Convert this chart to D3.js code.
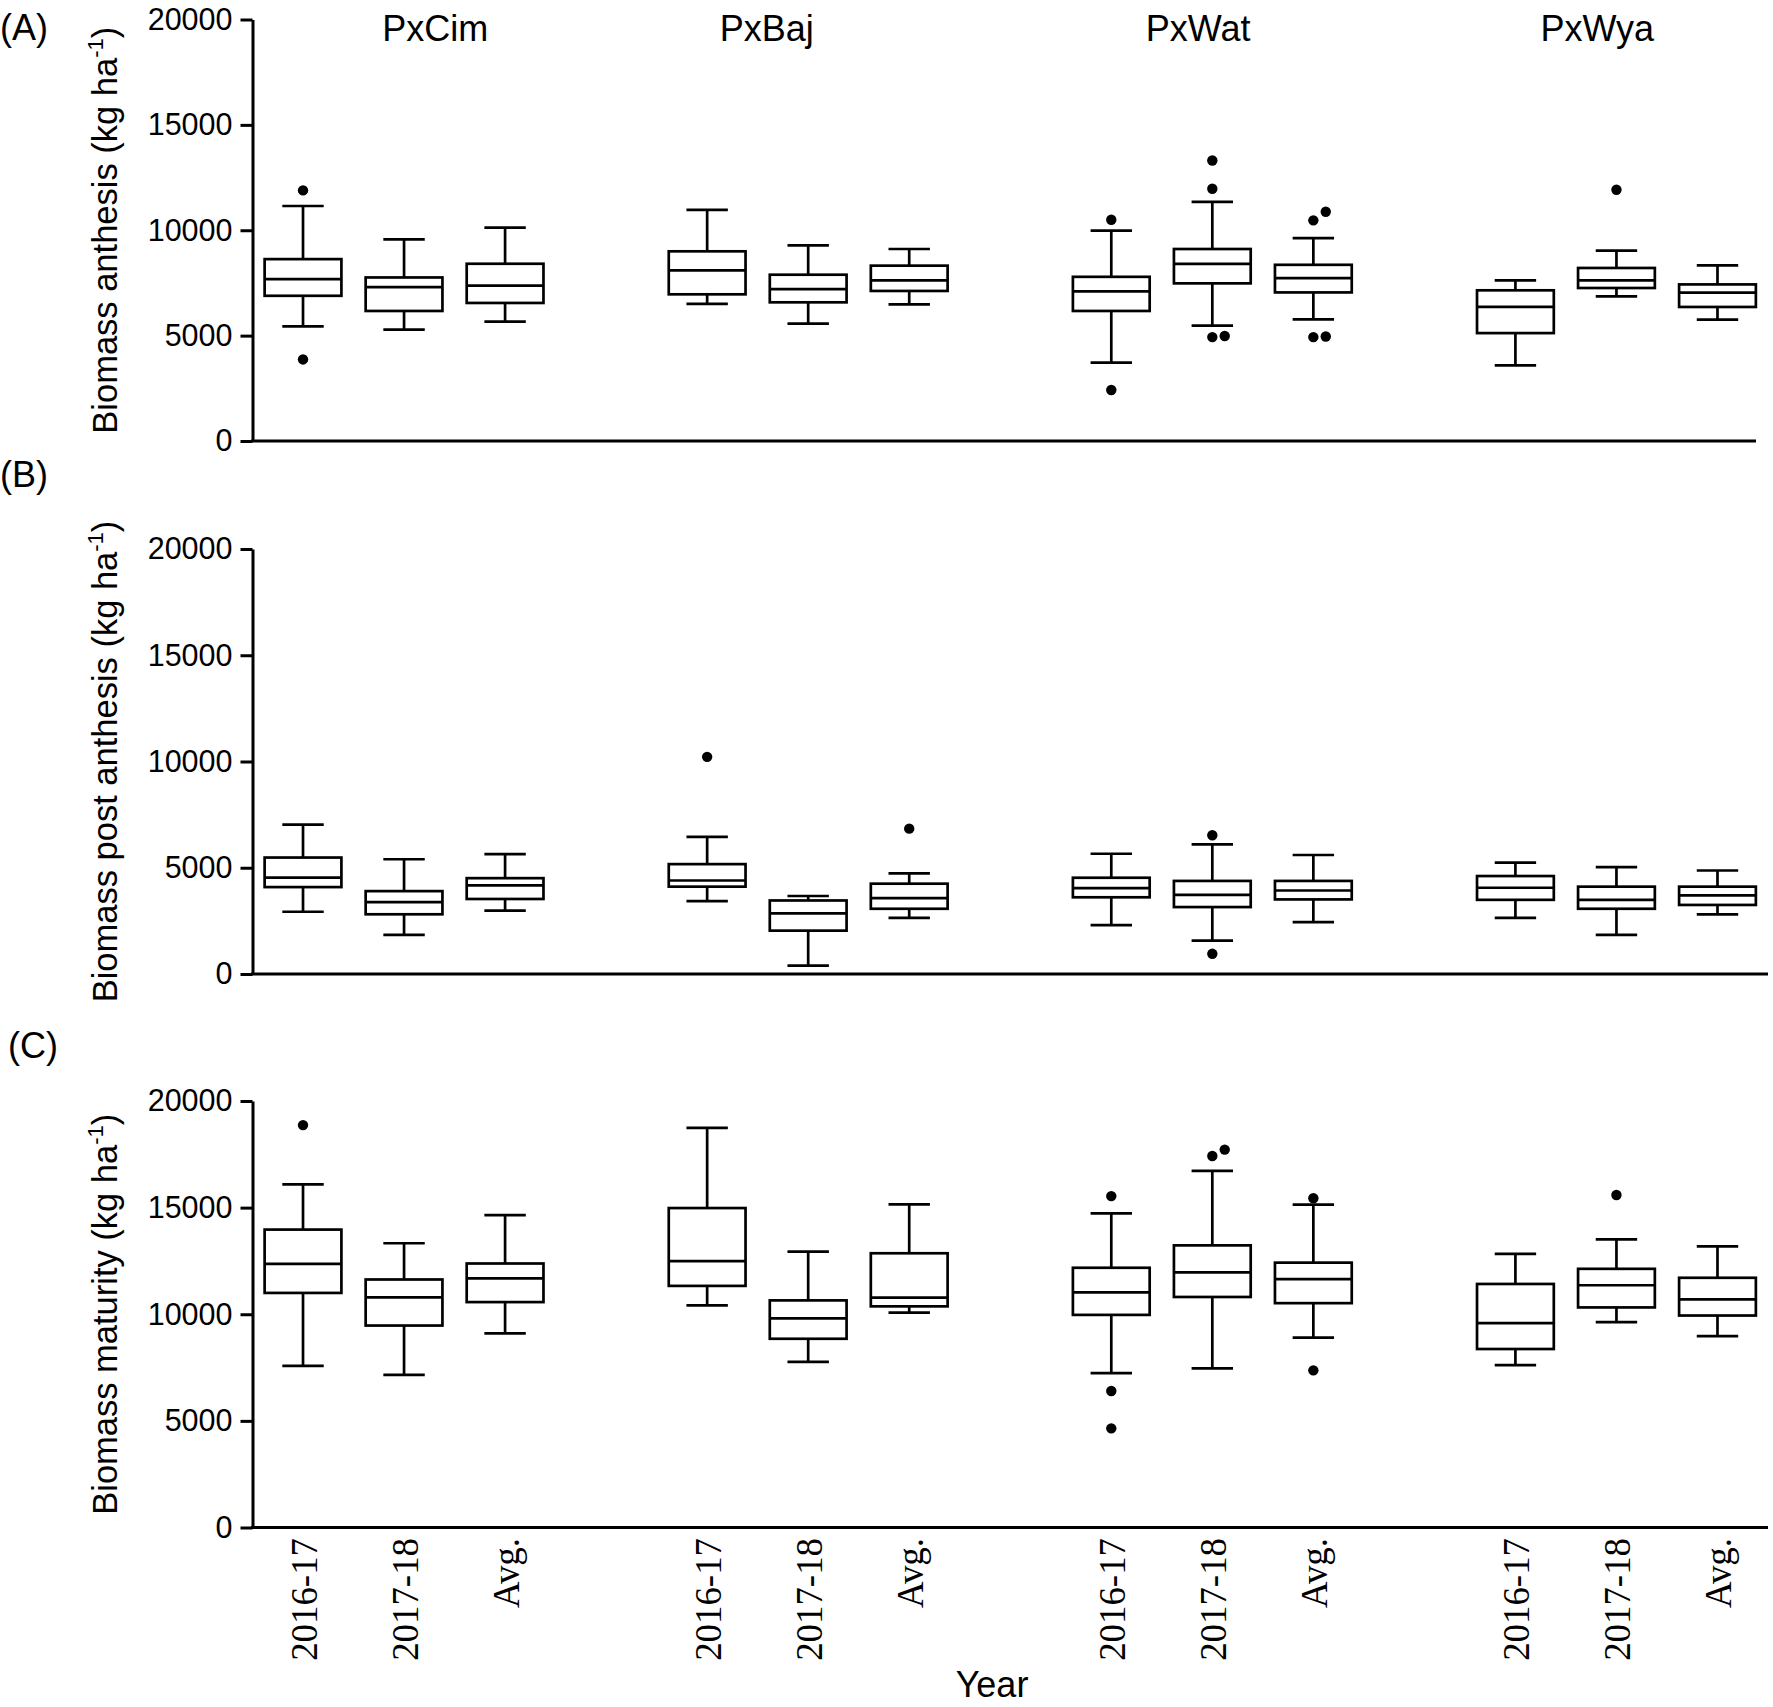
<!DOCTYPE html>
<html><head><meta charset="utf-8">
<script src="https://cdn.jsdelivr.net/npm/d3@7"></script>
<style>body{margin:0;background:#fff} svg{display:block}</style>
</head><body>
<script>
// ---------------- DATA ----------------
const groups = ["PxCim", "PxBaj", "PxWat", "PxWya"];
const years = ["2016-17", "2017-18", "Avg."];
const yTicks = [0, 5000, 10000, 15000, 20000];

// each box: [lower whisker, Q1, median, Q3, upper whisker]; order = groups x years
const anthesisBoxes = [
  [5440, 6890, 7680, 8630, 11150], [5280, 6170, 7300, 7760, 9570], [5660, 6550, 7370, 8410, 10120],
  [6510, 6960, 8100, 9000, 10970], [5570, 6580, 7210, 7890, 9280], [6480, 7120, 7620, 8320, 9110],
  [3720, 6170, 7100, 7790, 9980], [5470, 7480, 8400, 9110, 11350], [5770, 7050, 7730, 8360, 9630],
  [3590, 5120, 6360, 7150, 7620], [6860, 7260, 7620, 8210, 9030], [5760, 6360, 7040, 7430, 8330]
];
const anthesisOutliers = [
  [11890, 3870], [], [],
  [], [], [],
  [10500, 2420], [13310, 11970, 4930, 4980], [10880, 10470, 4930, 4960],
  [], [11920], []
];

const postAnthesisBoxes = [
  [2930, 4090, 4540, 5480, 7030], [1840, 2810, 3380, 3900, 5400], [2980, 3530, 4170, 4510, 5640],
  [3430, 4110, 4400, 5170, 6450], [390, 2040, 2850, 3460, 3670], [2640, 3070, 3570, 4250, 4740],
  [2300, 3610, 4040, 4530, 5660], [1570, 3150, 3720, 4380, 6100], [2440, 3510, 3930, 4380, 5600],
  [2640, 3490, 4060, 4610, 5240], [1840, 3070, 3490, 4110, 5030], [2810, 3250, 3700, 4110, 4870]
];
const postAnthesisOutliers = [
  [], [], [],
  [10220], [], [6840],
  [], [6530, 950], [],
  [], [], []
];

const maturityBoxes = [
  [7580, 11000, 12360, 13970, 16090], [7160, 9470, 10790, 11630, 13330], [9100, 10570, 11680, 12380, 14650],
  [10420, 11330, 12490, 14980, 18740], [7770, 8850, 9810, 10650, 12940], [10080, 10370, 10780, 12860, 15150],
  [7240, 9970, 11030, 12180, 14730], [7460, 10810, 11960, 13230, 16720], [8900, 10520, 11650, 12420, 15140],
  [7610, 8370, 9580, 11420, 12830], [9630, 10320, 11360, 12130, 13510], [8970, 9940, 10700, 11710, 13180]
];
const maturityOutliers = [
  [18870], [], [],
  [], [], [],
  [15540, 6400, 4650], [17420, 17720], [15440, 7370],
  [], [15590], []
];

// ---------------- LAYOUT ----------------
const W = 1773, H = 1707;
const titleSlots = [1.31, 4.59, 8.86, 12.81];
const panelDefs = [
  {tag: "(A)", tagX: 0, tagY: 40, name: "Biomass anthesis", boxes: anthesisBoxes, outliers: anthesisOutliers, top: 19.5, bottom: 441, right: 1756},
  {tag: "(B)", tagX: 0, tagY: 487, name: "Biomass post anthesis", boxes: postAnthesisBoxes, outliers: postAnthesisOutliers, top: 549, bottom: 974, right: 1768},
  {tag: "(C)", tagX: 8, tagY: 1058, name: "Biomass maturity", boxes: maturityBoxes, outliers: maturityOutliers, top: 1101, bottom: 1527.5, right: 1768}
];
const axisX = 252.5;
const SANS = "'Liberation Sans', Arial, Helvetica, sans-serif";
const SERIF = "'Liberation Serif', 'Times New Roman', serif";

const svg = d3.select("body").append("svg").attr("width", W).attr("height", H)
  .style("font-family", SANS);

const x = d3.scaleLinear().domain([-0.5, 14.5]).range([axisX, 1768]);
const slotOf = (g, k) => g * 4 + k;
const unit = x(1) - x(0);
const boxW = unit * 0.76, capW = unit * 0.41, dotR = 5.2;

panelDefs.forEach(p => {
  const y = d3.scaleLinear().domain([0, 20000]).range([p.bottom, p.top]);
  const g = svg.append("g");

  // y axis
  const ax = g.append("g").attr("transform", `translate(${axisX},0)`)
    .call(d3.axisLeft(y).tickValues(yTicks).tickSize(12).tickSizeOuter(0).tickPadding(8).tickFormat(d3.format("d")));
  ax.select(".domain").attr("stroke", "#000").attr("stroke-width", 3);
  ax.selectAll(".tick line").attr("stroke", "#000").attr("stroke-width", 3);
  ax.selectAll(".tick text").attr("font-size", 30.5).attr("font-family", SANS).attr("fill", "#000");

  // x axis line
  g.append("line").attr("x1", axisX - 1.5).attr("x2", p.right)
    .attr("y1", y(0)).attr("y2", y(0)).attr("stroke", "#000").attr("stroke-width", 3);

  // boxes
  groups.forEach((gr, gi) => {
    years.forEach((yr, yi) => {
      const i = gi * 3 + yi;
      const [lo, q1, md, q3, hi] = p.boxes[i];
      const cx = x(slotOf(gi, yi));
      const bg = g.append("g").attr("stroke", "#000").attr("stroke-width", 2.7).attr("fill", "none");
      bg.append("line").attr("x1", cx).attr("x2", cx).attr("y1", y(hi)).attr("y2", y(q3));
      bg.append("line").attr("x1", cx).attr("x2", cx).attr("y1", y(q1)).attr("y2", y(lo));
      bg.append("line").attr("x1", cx - capW / 2).attr("x2", cx + capW / 2).attr("y1", y(hi)).attr("y2", y(hi));
      bg.append("line").attr("x1", cx - capW / 2).attr("x2", cx + capW / 2).attr("y1", y(lo)).attr("y2", y(lo));
      bg.append("rect").attr("x", cx - boxW / 2).attr("width", boxW)
        .attr("y", y(q3)).attr("height", y(q1) - y(q3)).attr("fill", "#fff");
      bg.append("line").attr("x1", cx - boxW / 2).attr("x2", cx + boxW / 2).attr("y1", y(md)).attr("y2", y(md));

      // outliers with simple dodge
      const placed = [];
      p.outliers[i].slice().sort((a, b) => a - b).forEach(v => {
        const py = y(v);
        let px = cx;
        while (placed.some(q => Math.abs(q[0] - px) < dotR * 2 + 1 && Math.abs(q[1] - py) < dotR * 2 + 1)) px += dotR * 2 + 2;
        placed.push([px, py]);
        g.append("circle").attr("cx", px).attr("cy", py).attr("r", dotR).attr("fill", "#000");
      });
    });
  });

  // y label
  const cy = (p.top + p.bottom) / 2;
  const t = g.append("text").attr("transform", `translate(117,${cy}) rotate(-90)`)
    .attr("text-anchor", "middle").attr("font-size", 34.5).attr("fill", "#000");
  t.append("tspan").text(p.name + " (kg ha");
  t.append("tspan").attr("font-size", 22).attr("dy", -14).text("-1");
  t.append("tspan").attr("dy", 14).text(")");

  // panel tag
  svg.append("text").attr("x", p.tagX).attr("y", p.tagY).attr("font-size", 36).attr("fill", "#000").text(p.tag);
});

// group titles
svg.selectAll("text.title").data(groups).enter().append("text").attr("class", "title")
  .attr("x", (d, i) => x(titleSlots[i])).attr("y", 41).attr("text-anchor", "middle")
  .attr("font-size", 36).attr("fill", "#000").text(d => d);

// x tick labels (serif, rotated)
groups.forEach((gr, gi) => {
  years.forEach((yr, yi) => {
    svg.append("text")
      .attr("transform", `translate(${x(slotOf(gi, yi))},1538) rotate(-90) scale(0.97,1)`)
      .attr("text-anchor", "end").attr("dy", "0.36em")
      .attr("font-family", SERIF).attr("font-size", 38).attr("fill", "#000").text(yr);
  });
});

// x axis title
svg.append("text").attr("x", 992).attr("y", 1697).attr("text-anchor", "middle")
  .attr("font-size", 36).attr("fill", "#000").text("Year");
</script>
</body></html>
